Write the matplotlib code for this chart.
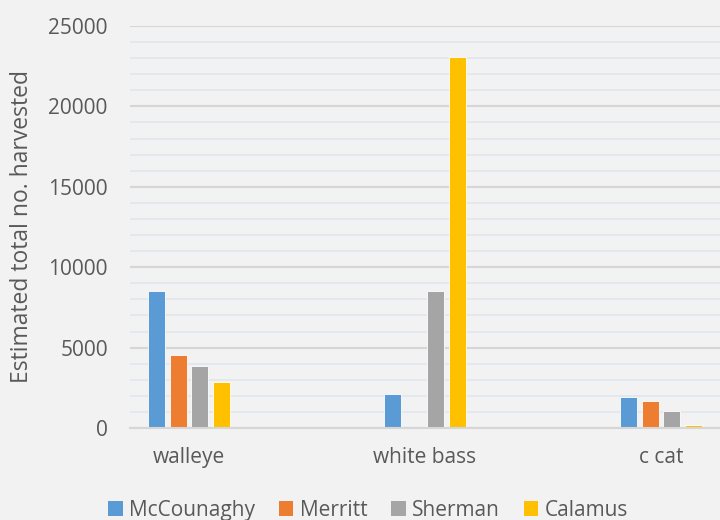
import numpy as np
import matplotlib.pyplot as plt
from matplotlib.patches import Patch
from matplotlib.ticker import MultipleLocator

# Estimated harvest per species for each reservoir
species = ["walleye", "white bass", "c cat"]
lakes = ["McCounaghy", "Merritt", "Sherman", "Calamus"]
mccounaghy = [8520, 2130, 1950]
merritt = [4540, 0, 1680]
sherman = [3840, 8520, 1040]
calamus = [2860, 23050, 190]
colors = ["#5B9BD5", "#ED7D31", "#A5A5A5", "#FFC000"]

plt.rcParams["font.family"] = ["Open Sans", "DejaVu Sans"]
bg = "#F2F2F2"
text_col = "#595959"

fig = plt.figure(figsize=(7.2, 5.2), dpi=100, facecolor=bg)
ax = fig.add_axes([130 / 720, 1 - 428 / 520, 590 / 720, 402 / 520])
ax.set_facecolor(bg)

x = np.arange(len(species))
step = 0.091
width = 0.072
series = [mccounaghy, merritt, sherman, calamus]
for i, (vals, c) in enumerate(zip(series, colors)):
    ax.bar(x + (i - 1.5) * step, vals, width, color=c, label=lakes[i],
           edgecolor="#FFFFFF", linewidth=0.6, zorder=3)

ax.set_xlim(-0.25, 2.25)
ax.set_ylim(0, 25000)
ax.yaxis.set_major_locator(MultipleLocator(5000))
ax.yaxis.set_minor_locator(MultipleLocator(1000))
ax.grid(which="minor", axis="y", color="#E2E7EE", linewidth=1.3, zorder=0)
ax.grid(which="major", axis="y", color="#D6D6D6", linewidth=1.5, zorder=1)
ax.set_xticks(x)
ax.set_xticklabels(species)

for s in ["top", "right", "left"]:
    ax.spines[s].set_visible(False)
ax.spines["bottom"].set_color("#D6D6D6")
ax.spines["bottom"].set_linewidth(1.5)
ax.spines["bottom"].set_zorder(4)

ax.tick_params(axis="y", which="both", length=0, pad=16, labelsize=15, labelcolor=text_col)
ax.tick_params(axis="x", length=0, pad=14, labelsize=15, labelcolor=text_col)
ax.set_ylabel("Estimated total no. harvested", fontsize=16.5, color=text_col, labelpad=10)

handles = [Patch(facecolor=c, label=l) for c, l in zip(colors, lakes)]
fig.legend(handles=handles, loc="upper center", bbox_to_anchor=(368 / 720, 1 - 481 / 520),
           ncol=4, frameon=False, fontsize=15, labelcolor=text_col,
           handlelength=0.7, handleheight=0.7, handletextpad=0.3, columnspacing=1.15)

fig.savefig("out.png", dpi=100, facecolor=bg)
